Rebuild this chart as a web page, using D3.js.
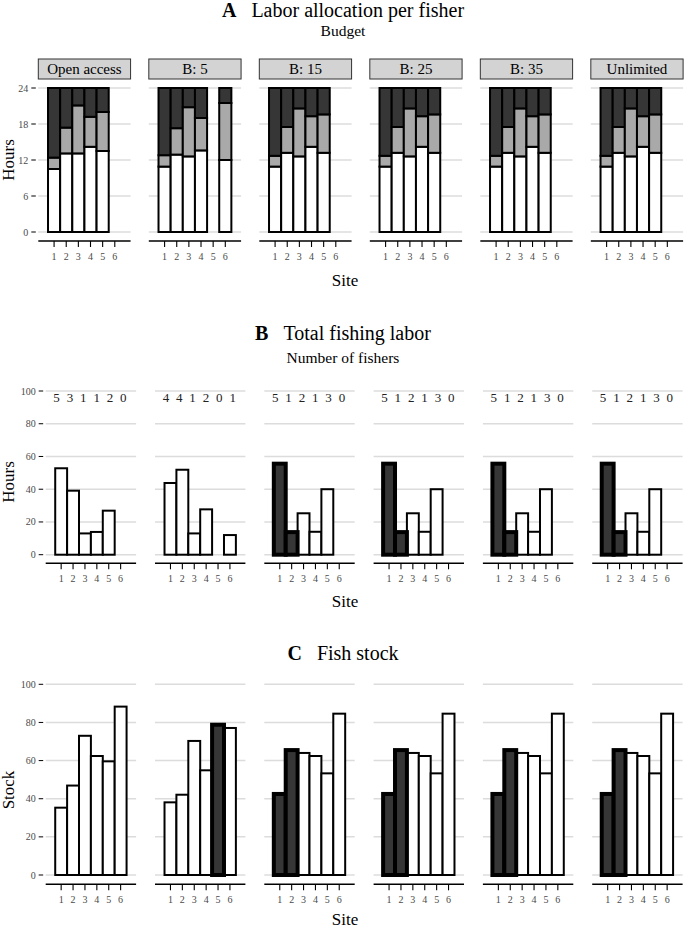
<!DOCTYPE html>
<html><head><meta charset="utf-8">
<script src="https://cdn.jsdelivr.net/npm/d3@7"></script>
</head>
<body style="margin:0;padding:0;background:#fff">
<script>
// ---------- DATA ----------
const budgets = ["Open access", "B: 5", "B: 15", "B: 25", "B: 35", "Unlimited"];
const sites = [1, 2, 3, 4, 5, 6];
const hourTicks = [0, 6, 12, 18, 24];
const pctTicks = [0, 20, 40, 60, 80, 100];

// Panel A: hours per fisher, stacked (white = fishing, grey = middle, dark = top)
const laborWhite = [
  [10.5, 13.1, 13.1, 14.2, 13.5, 0],
  [10.9, 12.9, 12.6, 13.6, 0, 12.0],
  [10.9, 13.2, 12.6, 14.2, 13.2, 0],
  [10.9, 13.2, 12.6, 14.2, 13.2, 0],
  [10.9, 13.2, 12.6, 14.2, 13.2, 0],
  [10.9, 13.2, 12.6, 14.2, 13.2, 0]
];
const laborGrey = [
  [1.9, 4.3, 8.0, 5.0, 6.5, 0],
  [1.9, 4.4, 8.2, 5.4, 0, 9.5],
  [1.8, 4.3, 8.0, 5.1, 6.4, 0],
  [1.8, 4.3, 8.0, 5.1, 6.4, 0],
  [1.8, 4.3, 8.0, 5.1, 6.4, 0],
  [1.8, 4.3, 8.0, 5.1, 6.4, 0]
];
const laborDark = [
  [11.6, 6.6, 2.9, 4.8, 4.0, 0],
  [11.2, 6.7, 3.2, 5.0, 0, 2.5],
  [11.3, 6.5, 3.4, 4.7, 4.4, 0],
  [11.3, 6.5, 3.4, 4.7, 4.4, 0],
  [11.3, 6.5, 3.4, 4.7, 4.4, 0],
  [11.3, 6.5, 3.4, 4.7, 4.4, 0]
];

// Panel B: total fishing labor (hours) and number of fishers
const totalLabor = [
  [52.8, 39.1, 13.0, 13.9, 26.9, 0],
  [43.8, 51.9, 13.0, 27.7, 0, 12.0],
  [55.6, 13.8, 25.3, 14.0, 40.0, 0],
  [55.6, 13.8, 25.3, 14.0, 40.0, 0],
  [55.6, 13.8, 25.3, 14.0, 40.0, 0],
  [55.6, 13.8, 25.3, 14.0, 40.0, 0]
];
const fishers = [
  [5, 3, 1, 1, 2, 0],
  [4, 4, 1, 2, 0, 1],
  [5, 1, 2, 1, 3, 0],
  [5, 1, 2, 1, 3, 0],
  [5, 1, 2, 1, 3, 0],
  [5, 1, 2, 1, 3, 0]
];
const highlightB = [[], [], [1, 2], [1, 2], [1, 2], [1, 2]];

// Panel C: fish stock
const stock = [
  [35.3, 46.9, 73.0, 62.4, 59.6, 88.3],
  [38.1, 42.1, 70.3, 54.9, 78.8, 77.1],
  [42.5, 65.5, 64.0, 62.4, 53.3, 84.6],
  [42.5, 65.5, 64.0, 62.4, 53.3, 84.6],
  [42.5, 65.5, 64.0, 62.4, 53.3, 84.6],
  [42.5, 65.5, 64.0, 62.4, 53.3, 84.6]
];
const highlightC = [[], [5], [1, 2], [1, 2], [1, 2], [1, 2]];

// ---------- DRAW ----------
const W = 685, H = 930;
const FONT = "Liberation Serif";
const svg = d3.select("body").append("svg").attr("width", W).attr("height", H)
  .attr("font-family", FONT).style("display", "block");
svg.append("rect").attr("width", W).attr("height", H).attr("fill", "#fff");

const GRID = "#dcdcdc", DARK = "#363636", GREY = "#a9a9a9", TICKCOL = "#4a4a4a";

function title(letter, rest, y) {
  const t = svg.append("text").attr("x", 343).attr("y", y).attr("text-anchor", "middle")
    .attr("font-family", FONT).attr("font-size", 20).attr("fill", "#000");
  t.append("tspan").attr("font-weight", "bold").text(letter);
  t.append("tspan").attr("dx", 15).text(rest);
}
function subtitle(txt, y) {
  svg.append("text").attr("x", 343).attr("y", y).attr("text-anchor", "middle")
    .attr("font-family", FONT).attr("font-size", 15.5).text(txt);
}
function ylabel(txt, y) {
  svg.append("text").attr("transform", `translate(13.5,${y}) rotate(-90)`)
    .attr("text-anchor", "middle").attr("font-family", FONT).attr("font-size", 17).text(txt);
}
function xlabel(y) {
  svg.append("text").attr("x", 345).attr("y", y).attr("text-anchor", "middle")
    .attr("font-family", FONT).attr("font-size", 17).text("Site");
}

// generic panel frame: gridlines, x axis, y axis on first facet
function frame(g, bw, y, ticks, axisY, first, tickLabelY) {
  const x = d3.scaleLinear().domain([-0.3, 7.3]).range([0, bw]);
  g.selectAll("line.grid").data(ticks).join("line").attr("class", "grid")
    .attr("x1", 0).attr("x2", bw).attr("y1", d => y(d)).attr("y2", d => y(d))
    .attr("stroke", GRID).attr("stroke-width", 1.5);
  const ax = g.append("g").attr("transform", `translate(0,${axisY})`);
  ax.append("line").attr("x1", 0).attr("x2", bw).attr("stroke", "#000").attr("stroke-width", 1.4);
  ax.selectAll("line.tk").data(sites).join("line").attr("class", "tk")
    .attr("x1", d => x(d)).attr("x2", d => x(d)).attr("y1", 0).attr("y2", 6)
    .attr("stroke", "#000").attr("stroke-width", 1.1);
  ax.selectAll("text").data(sites).join("text")
    .attr("x", d => x(d)).attr("y", tickLabelY - axisY).attr("text-anchor", "middle")
    .attr("font-family", FONT).attr("font-size", 10).attr("fill", TICKCOL).text(d => d);
  if (first) {
    const ay = g.append("g");
    ay.selectAll("line").data(ticks).join("line")
      .attr("x1", -7).attr("x2", -2.5).attr("y1", d => y(d)).attr("y2", d => y(d))
      .attr("stroke", "#000").attr("stroke-width", 1);
    ay.selectAll("text").data(ticks).join("text")
      .attr("x", -10).attr("y", d => y(d) + 3.5).attr("text-anchor", "end")
      .attr("font-family", FONT).attr("font-size", 10).attr("fill", TICKCOL).text(d => d);
  }
  return x;
}

// ----- Panel A -----
title("A", "Labor allocation per fisher", 17);
subtitle("Budget", 36);
const fxA = d3.scaleBand().domain(budgets).range([38.3, 683.1]).paddingInner(0.165);
const yA = d3.scaleLinear().domain([0, 24]).range([232, 88]);
budgets.forEach((b, i) => {
  const g = svg.append("g").attr("transform", `translate(${fxA(b)},0)`);
  const bw = fxA.bandwidth();
  g.append("rect").attr("x", 0).attr("y", 59).attr("width", bw).attr("height", 20)
    .attr("fill", "#d3d3d3").attr("stroke", "#333").attr("stroke-width", 1);
  g.append("text").attr("x", bw / 2).attr("y", 74).attr("text-anchor", "middle")
    .attr("font-family", FONT).attr("font-size", 15).text(b);
  const x = frame(g, bw, yA, hourTicks, 241, i === 0, 260);
  const rows = sites.map((s, j) => ({ site: s, w: laborWhite[i][j], gr: laborGrey[i][j], dk: laborDark[i][j] }))
    .filter(d => d.w + d.gr + d.dk > 0);
  const segs = [];
  rows.forEach(d => {
    segs.push({ site: d.site, y0: 0, y1: d.w, fill: "#fff" });
    segs.push({ site: d.site, y0: d.w, y1: d.w + d.gr, fill: GREY });
    segs.push({ site: d.site, y0: d.w + d.gr, y1: d.w + d.gr + d.dk, fill: DARK });
  });
  g.selectAll("rect.seg").data(segs).join("rect").attr("class", "seg")
    .attr("x", d => x(d.site - 0.5)).attr("width", x(1) - x(0))
    .attr("y", d => yA(d.y1)).attr("height", d => yA(d.y0) - yA(d.y1))
    .attr("fill", d => d.fill).attr("stroke", "#000").attr("stroke-width", 2);
});
ylabel("Hours", 160);
xlabel(286);

// ----- Panel B -----
title("B", "Total fishing labor", 340);
subtitle("Number of fishers", 363);
const fxB = d3.scaleBand().domain(budgets).range([45.7, 682.6]).paddingInner(0.173);
const yB = d3.scaleLinear().domain([0, 100]).range([554.7, 391]);
budgets.forEach((b, i) => {
  const g = svg.append("g").attr("transform", `translate(${fxB(b)},0)`);
  const bw = fxB.bandwidth();
  const x = frame(g, bw, yB, pctTicks, 563.3, i === 0, 582.5);
  const data = sites.map((s, j) => ({ site: s, v: totalLabor[i][j], hl: highlightB[i].includes(s) }))
    .filter(d => d.v > 0);
  data.sort((a, b) => (a.hl ? 1 : 0) - (b.hl ? 1 : 0));
  g.selectAll("rect.bar").data(data).join("rect").attr("class", "bar")
    .attr("x", d => x(d.site - 0.5)).attr("width", x(1) - x(0))
    .attr("y", d => yB(d.v)).attr("height", d => yB(0) - yB(d.v))
    .attr("fill", d => d.hl ? DARK : "#fff").attr("stroke", "#000")
    .attr("stroke-width", d => d.hl ? 4 : 2);
  g.append("text").attr("x", bw / 2).attr("y", 401.7).attr("text-anchor", "middle")
    .attr("font-family", FONT).attr("font-size", 13).attr("letter-spacing", 1.8).attr("fill", "#222")
    .text(fishers[i].join(" "));
});
ylabel("Hours", 482);
xlabel(607);

// ----- Panel C -----
title("C", "Fish stock", 660);
const yC = d3.scaleLinear().domain([0, 100]).range([875, 684.3]);
budgets.forEach((b, i) => {
  const g = svg.append("g").attr("transform", `translate(${fxB(b)},0)`);
  const bw = fxB.bandwidth();
  const x = frame(g, bw, yC, pctTicks, 884.3, i === 0, 903);
  const data = sites.map((s, j) => ({ site: s, v: stock[i][j], hl: highlightC[i].includes(s) }))
    .filter(d => d.v > 0);
  data.sort((a, b) => (a.hl ? 1 : 0) - (b.hl ? 1 : 0));
  g.selectAll("rect.bar").data(data).join("rect").attr("class", "bar")
    .attr("x", d => x(d.site - 0.5)).attr("width", x(1) - x(0))
    .attr("y", d => yC(d.v)).attr("height", d => yC(0) - yC(d.v))
    .attr("fill", d => d.hl ? DARK : "#fff").attr("stroke", "#000")
    .attr("stroke-width", d => d.hl ? 4 : 2);
});
ylabel("Stock", 790);
xlabel(925);
</script>
</body></html>
